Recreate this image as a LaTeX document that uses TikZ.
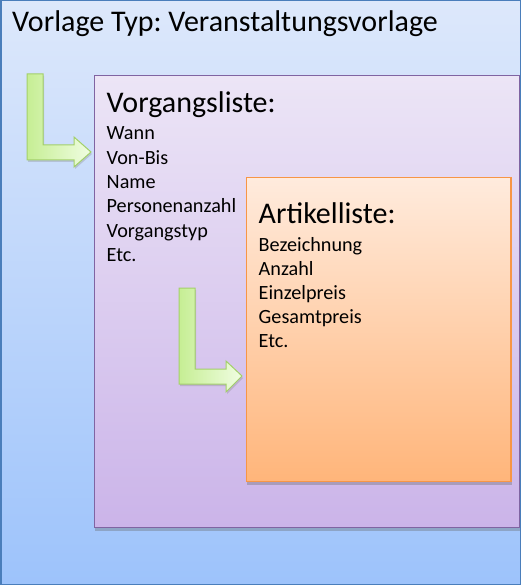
\documentclass[tikz,border=0pt]{standalone}
\usepackage{fontspec}
\setmainfont{Carlito}
\frenchspacing
\usetikzlibrary{shadows}
\definecolor{outerTop}{HTML}{DDE8FB}
\definecolor{outerBot}{HTML}{9DC3FB}
\definecolor{outerLine}{HTML}{4A7EBB}
\definecolor{purpTop}{HTML}{ECE5F6}
\definecolor{purpBot}{HTML}{CBB4E9}
\definecolor{purpLine}{HTML}{8064A2}
\definecolor{orTop}{HTML}{FFEBDD}
\definecolor{orBot}{HTML}{FFB57A}
\definecolor{orLine}{HTML}{F79646}
\definecolor{grL}{HTML}{C6EE94}
\definecolor{grR}{HTML}{F0FDE2}
\definecolor{grLine}{HTML}{A3D06A}
\tikzset{
  panel/.style={draw, anchor=north west, inner sep=0pt, outer sep=0pt},
  boxshadow/.style={drop shadow={shadow xshift=0.5pt, shadow yshift=-3pt, opacity=0.35, fill=black!60}},
  headtext/.style={anchor=base west, inner sep=0pt, font=\fontsize{30}{35}\selectfont},
  itemtext/.style={anchor=base west, inner sep=0pt, font=\fontsize{20.2}{24}\selectfont},
  bentarrow/.style={draw=grLine, line width=1pt, left color=grL, right color=grR, line join=miter,
    drop shadow={shadow xshift=1pt, shadow yshift=-2pt, opacity=0.3, fill=black!50}}
}
\begin{document}
\begin{tikzpicture}[x=1pt,y=-1pt]
\useasboundingbox (0,0) rectangle (521,585);
% outer box
\node[panel, draw=outerLine, line width=1.5pt, top color=outerTop, bottom color=outerBot,
  minimum width=519.5pt, minimum height=583.5pt] (outer) at (0.75,0.75) {};
\node[headtext] (outertitle) at (12,32) {Vorlage Typ: Veranstaltungsvorlage};
% purple box
\node[panel, draw=purpLine, line width=1pt, top color=purpTop, bottom color=purpBot, boxshadow,
  minimum width=425pt, minimum height=452pt] (vorg) at (94.5,75.5) {};
\node[headtext] (vorgtitle) at (106.5,113) {Vorgangsliste:};
\foreach \t [count=\i from 0] in {Wann,Von-Bis,Name,Personenanzahl,Vorgangstyp,Etc.}{
  \node[itemtext] (vorgitem\i) at (106.5,140+24.3*\i) {\t};
}
% orange box
\node[panel, draw=orLine, line width=1.2pt, top color=orTop, bottom color=orBot, boxshadow,
  minimum width=264.5pt, minimum height=304pt] (art) at (246.5,177.5) {};
\node[headtext] (arttitle) at (258.5,223) {Artikelliste:};
\foreach \t [count=\i from 0] in {Bezeichnung,Anzahl,Einzelpreis,Gesamtpreis,Etc.}{
  \node[itemtext] (artitem\i) at (258.5,251+24*\i) {\t};
}
% bent arrows
\path[bentarrow] (27,74) -- (43,74) -- (43,145) -- (74,145) -- (74,137) -- (91,152)
  -- (74,167) -- (74,160) -- (27,160) -- cycle;
\path[bentarrow] (179,288) -- (195,288) -- (195,369) -- (226,369) -- (226,361) -- (242,376)
  -- (226,392) -- (226,384) -- (179,384) -- cycle;
\end{tikzpicture}
\end{document}
